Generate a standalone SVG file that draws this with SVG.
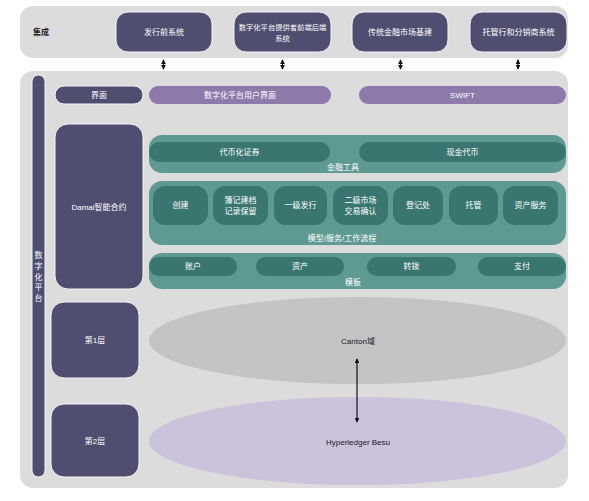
<svg xmlns="http://www.w3.org/2000/svg" width="589" height="501" viewBox="0 0 589 501">
<defs>
<marker id="ah" viewBox="0 0 6 6" refX="5" refY="3" markerWidth="4" markerHeight="4" orient="auto-start-reverse" markerUnits="strokeWidth">
<path d="M0,0 L6,3 L0,6 z" fill="#111"/>
</marker>
<style>
.panel{fill:#dcdcdc}
.dark{fill:#4f4e70;stroke:#f4f4f8;stroke-width:1}
.purple{fill:#8d7aab}
.teal{fill:#5e9a92}
.tealin{fill:#3a7670}
.t{font-family:"Liberation Sans","Noto Sans CJK SC",sans-serif;font-size:8px;fill:#ffffff;text-anchor:middle;dominant-baseline:central}
.tb{font-family:"Liberation Sans","Noto Sans CJK SC",sans-serif;font-size:8px;fill:#1a1a1a;text-anchor:middle;dominant-baseline:central}
.conn{stroke:#111;stroke-width:1.2;fill:none;marker-start:url(#ah);marker-end:url(#ah)}
</style>
</defs>
<rect width="589" height="501" fill="#ffffff"/>

<g id="integration">
<rect class="panel" x="20" y="6" width="548" height="52" rx="13"/>
<text class="tb" x="33" y="32" style="text-anchor:start;font-weight:bold">集成</text>
</g>
<g id="pre-issue">
<rect class="dark" x="116" y="12" width="96" height="40" rx="12"/>
<text class="t" x="164" y="32">发行前系统</text>
</g>
<g id="provider-backend">
<rect class="dark" x="234" y="12" width="97" height="40" rx="12"/>
<text class="t" x="282.5" y="27" style="font-size:7.3px">数字化平台提供者前端后端</text>
<text class="t" x="282.5" y="38" style="font-size:7.3px">系统</text>
</g>
<g id="legacy-infra">
<rect class="dark" x="352" y="12" width="96" height="40" rx="12"/>
<text class="t" x="400" y="32">传统金融市场基建</text>
</g>
<g id="custodian">
<rect class="dark" x="470" y="12" width="97" height="40" rx="12"/>
<text class="t" x="518.5" y="32">托管行和分销商系统</text>
</g>

<g id="platform">
<rect class="panel" x="20" y="71" width="548" height="417" rx="13"/>
</g>
<g id="platform-bar">
<rect class="dark" x="32" y="75" width="13" height="402" rx="6.5"/>
<text class="t" x="38.5" y="255">数</text>
<text class="t" x="38.5" y="266">字</text>
<text class="t" x="38.5" y="277">化</text>
<text class="t" x="38.5" y="287">平</text>
<text class="t" x="38.5" y="298">台</text>
</g>

<g id="ui">
<rect class="dark" x="55" y="86" width="88" height="18" rx="9"/>
<text class="t" x="99" y="95">界面</text>
</g>
<g id="user-ui">
<rect class="purple" x="149" y="86" width="182" height="18" rx="9"/>
<text class="t" x="240" y="95">数字化平台用户界面</text>
</g>
<g id="swift">
<rect class="purple" x="359" y="86" width="207" height="18" rx="9"/>
<text class="t" x="462.5" y="95">SWIFT</text>
</g>

<g id="daml">
<rect class="dark" x="55" y="124" width="88" height="165" rx="13"/>
<text class="t" x="99" y="207">Damal智能合约</text>
</g>

<g id="fin-tools">
<rect class="teal" x="149" y="135" width="417" height="38" rx="13"/>
<rect class="tealin" x="149" y="142" width="181" height="20" rx="10"/>
<text class="t" x="239.5" y="152">代币化证券</text>
<rect class="tealin" x="359" y="142" width="207" height="20" rx="10"/>
<text class="t" x="462.5" y="152">现金代币</text>
<text class="t" x="343" y="167">金融工具</text>
</g>

<g id="workflows">
<rect class="teal" x="149" y="181" width="417" height="64" rx="13"/>
<rect class="tealin" x="153" y="186" width="55" height="39" rx="12"/>
<text class="t" x="180.5" y="205.5">创建</text>
<rect class="tealin" x="213" y="186" width="55" height="39" rx="12"/>
<text class="t" x="240.5" y="200">簿记建档</text>
<text class="t" x="240.5" y="211">记录保留</text>
<rect class="tealin" x="274" y="186" width="53" height="39" rx="12"/>
<text class="t" x="300.5" y="205.5">一级发行</text>
<rect class="tealin" x="333" y="186" width="55" height="39" rx="12"/>
<text class="t" x="360.5" y="200">二级市场</text>
<text class="t" x="360.5" y="211">交易确认</text>
<rect class="tealin" x="393" y="186" width="50" height="39" rx="12"/>
<text class="t" x="418" y="205">登记处</text>
<rect class="tealin" x="449" y="186" width="49" height="39" rx="12"/>
<text class="t" x="473.5" y="205.5">托管</text>
<rect class="tealin" x="503" y="186" width="55" height="39" rx="12"/>
<text class="t" x="530.5" y="205.5">资产服务</text>
<text class="t" x="342" y="238">模型/服务/工作流程</text>
</g>

<g id="templates">
<rect class="teal" x="149" y="253" width="417" height="36" rx="13"/>
<rect class="tealin" x="149" y="257" width="88" height="19" rx="9.5"/>
<text class="t" x="193" y="266.5">账户</text>
<rect class="tealin" x="256" y="257" width="88" height="19" rx="9.5"/>
<text class="t" x="300" y="266.5">资产</text>
<rect class="tealin" x="367" y="257" width="89" height="19" rx="9.5"/>
<text class="t" x="411.5" y="266.5">转拨</text>
<rect class="tealin" x="478" y="257" width="88" height="19" rx="9.5"/>
<text class="t" x="522" y="266.5">支付</text>
<text class="t" x="353" y="282">模板</text>
</g>

<g id="layer1">
<rect class="dark" x="51" y="302" width="88" height="76" rx="13"/>
<text class="t" x="95" y="340">第1层</text>
</g>
<g id="layer2">
<rect class="dark" x="51" y="404" width="88" height="73" rx="13"/>
<text class="t" x="95" y="441">第2层</text>
</g>
<g id="canton">
<ellipse cx="357.5" cy="340.5" rx="208.5" ry="43.5" fill="#c3c4c6"/>
<text class="tb" x="358" y="341">Canton域</text>
</g>
<g id="besu">
<ellipse cx="357.5" cy="441" rx="208.5" ry="44" fill="#cbc3dc"/>
<text class="tb" x="358" y="442">Hyperledger Besu</text>
</g>

<g id="connectors">
<line class="conn" x1="163.5" y1="60" x2="163.5" y2="69"/>
<line class="conn" x1="282.5" y1="60" x2="282.5" y2="69"/>
<line class="conn" x1="400.5" y1="60" x2="400.5" y2="69"/>
<line class="conn" x1="518" y1="60" x2="518" y2="69"/>
<line class="conn" x1="357" y1="359" x2="357" y2="422"/>
</g>
</svg>
